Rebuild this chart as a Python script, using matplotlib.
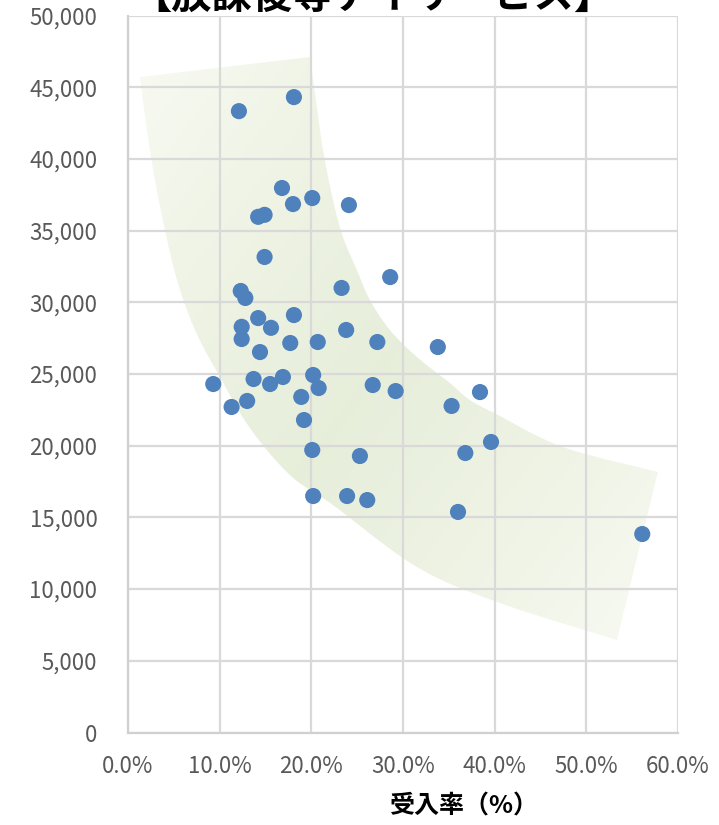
import numpy as np
import matplotlib
matplotlib.use("Agg")
import matplotlib.pyplot as plt
from matplotlib.patches import Polygon
from matplotlib.ticker import FuncFormatter

plt.rcParams['font.family'] = ['Noto Sans CJK JP', 'DejaVu Sans']

# --- data (acceptance rate, value) ---
rate = [0.093, 0.113, 0.121, 0.123, 0.128, 0.124, 0.124, 0.130, 0.137, 0.142,
        0.149, 0.142, 0.144, 0.149, 0.155, 0.156, 0.168, 0.169, 0.177, 0.181,
        0.180, 0.181, 0.189, 0.192, 0.201, 0.202, 0.201, 0.202, 0.208, 0.207,
        0.233, 0.238, 0.241, 0.239, 0.253, 0.261, 0.267, 0.272, 0.286, 0.292,
        0.338, 0.353, 0.360, 0.368, 0.384, 0.396, 0.561]
value = [24300, 22700, 43330, 30790, 30300, 28290, 27440, 23120, 24650, 35960,
         36100, 28900, 26530, 33160, 24300, 28220, 37970, 24790, 27160, 44310,
         36850, 29110, 23400, 21790, 37270, 24930, 19700, 16490, 24020, 27230,
         31000, 28070, 36780, 16490, 19280, 16210, 24230, 27230, 31760, 23810,
         26880, 22770, 15380, 19490, 23740, 20260, 13840]

title = "【放課後等デイサービス】"
xlabel = "受入率（%）"
xticks = [0.0, 0.1, 0.2, 0.3, 0.4, 0.5, 0.6]
yticks = list(range(0, 50001, 5000))

# decorative band outline (data coords)
band_upper = [(0.1985, 47106), (0.2061, 43620), (0.2127, 40621), (0.2236, 37134),
              (0.2345, 34554), (0.2497, 32253), (0.2639, 30160), (0.2857, 28068),
              (0.3152, 26185), (0.3511, 24372), (0.3729, 23187), (0.4024, 22180),
              (0.4744, 19909), (0.5780, 18166)]
band_lower = [(0.0131, 45711), (0.0207, 42015), (0.0294, 38529), (0.0404, 35042),
              (0.0535, 31555), (0.0731, 28068), (0.1003, 24791), (0.1330, 21234),
              (0.1767, 17957), (0.2236, 15865), (0.3152, 11541), (0.4057, 9031),
              (0.5333, 6450)]


def smooth(pts, n=12):
    p = np.array(pts, dtype=float)
    sc = np.array([0.6, 50000.0])
    p = p / sc
    ext = np.vstack([2*p[0]-p[1], p, 2*p[-1]-p[-2]])
    out = []
    for i in range(1, len(ext)-2):
        p0, p1, p2, p3 = ext[i-1], ext[i], ext[i+1], ext[i+2]
        for t in np.linspace(0, 1, n, endpoint=False):
            t2, t3 = t*t, t*t*t
            out.append(0.5*((2*p1) + (-p0+p2)*t + (2*p0-5*p1+4*p2-p3)*t2
                            + (-p0+3*p1-3*p2+p3)*t3))
    out.append(p[-1])
    return np.array(out) * sc


fig = plt.figure(figsize=(7.19, 8.25), dpi=100)
ax = fig.add_axes([128/719, 1-732.5/825, 550/719, 717/825])
ax.set_xlim(0, 0.6)
ax.set_ylim(0, 50000)

up = smooth(band_upper)
lo = smooth(band_lower)
poly_pts = np.vstack([up, lo[::-1]])
poly = Polygon(poly_pts, closed=True, facecolor='none', edgecolor='none')
ax.add_patch(poly)
nx, ny = 300, 300
gx = np.linspace(0, 0.6, nx)
gy = np.linspace(0, 50000, ny)
GX, GY = np.meshgrid(gx, gy)
u = GX/0.6 - GY/50000
w = np.clip(1 - np.abs(u + 0.05)/0.95, 0, 1)**0.8
light = np.array([0.985, 0.988, 0.965])
dark = np.array([0.905, 0.933, 0.855])
rgb = light[None, None, :]*(1-w[..., None]) + dark[None, None, :]*w[..., None]
im = ax.imshow(rgb, extent=[0, 0.6, 0, 50000], origin='lower', aspect='auto',
               zorder=0.2, interpolation='bilinear')
im.set_clip_path(poly)

ax.set_axisbelow(True)
ax.grid(True, color='#d9d9d9', linewidth=1.6)
ax.set_xticks(xticks)
ax.set_yticks(yticks)
for s in ['top', 'right']:
    ax.spines[s].set_visible(False)
for s in ['left', 'bottom']:
    ax.spines[s].set_color('#d0d0d0')
    ax.spines[s].set_linewidth(1.6)
    ax.spines[s].set_zorder(0.6)

ax.xaxis.set_major_formatter(FuncFormatter(lambda v, p: f"{v*100:.1f}%"))
ax.yaxis.set_major_formatter(FuncFormatter(lambda v, p: f"{int(v):,}"))
ax.tick_params(axis='both', length=0, labelsize=16, colors='#595959')
ax.tick_params(axis='y', pad=22)
ax.tick_params(axis='x', pad=16)

ax.scatter(rate, value, s=135, color='#4f81bd', edgecolors='none', zorder=3)

fig.text(373/719, 1-9/825, title, ha='center', va='baseline', fontsize=29,
         fontweight='bold', color='black')
fig.text(464/719, 1-806/825, xlabel, ha='center', va='center', fontsize=18,
         fontweight='bold', color='black')

fig.savefig('out.png', dpi=100)
